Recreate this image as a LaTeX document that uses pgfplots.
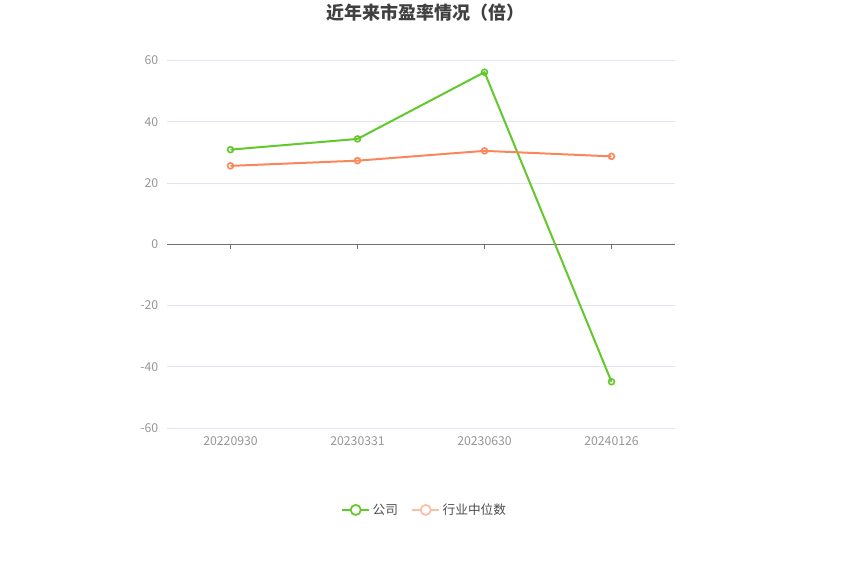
\documentclass[border=0pt]{standalone}
\usepackage{fontspec}
\setmainfont{Noto Sans CJK SC}
\usepackage{pgfplots}
\pgfplotsset{compat=1.18}
\definecolor{cgreen}{RGB}{98,200,44}
\definecolor{corange}{RGB}{250,135,90}
\definecolor{corangepale}{RGB}{252,190,165}
\definecolor{gridc}{RGB}{224,230,241}
\definecolor{axisc}{RGB}{110,112,121}
\definecolor{tickc}{RGB}{150,150,150}
\begin{document}
\begin{tikzpicture}
\path[use as bounding box] (0pt,0pt) rectangle (637.5pt,430.5pt);
\node[font=\bfseries\fontsize{13.5}{15}\selectfont, text=black!75] at (318.75pt,420.75pt) {近年来市盈率情况（倍）};
\begin{axis}[
  at={(125.25pt,109.5pt)}, anchor=south west,
  scale only axis, width=381pt, height=275.6pt,
  xmin=-0.5, xmax=3.5, ymin=-60, ymax=60,
  axis line style={draw=none},
  xtick={0,1,2,3},
  xticklabels={20220930,20230331,20230630,20240126},
  ytick={-60,-40,-20,0,20,40,60},
  ymajorgrids, grid style={gridc, line width=0.6pt},
  major tick length=0pt,
  tick label style={font=\fontsize{9.2}{11}\selectfont, text=tickc},
  /pgf/number format/assume math mode=true,
  xticklabel style={yshift=-3pt},
  yticklabel style={xshift=-3pt},
  clip=false,
  legend columns=2,
  legend style={at={(0.508,-0.223)}, anchor=center, draw=none, fill=none,
    font=\fontsize{9.5}{11}\selectfont, text=black!70,
    /tikz/every even column/.append style={column sep=8pt}},
  legend image code/.code={
    \draw[#1] (-0.6em,0) -- (1.4em,0);
    \draw[#1, fill=white, line width=1.3pt] (0.4em,0) circle (3.8pt);
  },
]
\draw[axisc, line width=0.8pt] (axis cs:-0.5,0) -- (axis cs:3.5,0);
\pgfplotsinvokeforeach{0,1,2,3}{\draw[axisc, line width=0.8pt] (axis cs:#1,0) -- ([yshift=-3.5pt]axis cs:#1,0);}
\addplot[cgreen, line width=1.5pt, mark=o, mark size=2.2pt, mark options={line width=1.2pt}, forget plot]
  coordinates {(0,30.9) (1,34.4) (2,56.2) (3,-44.9)};
\addplot[corange, line width=1.5pt, mark=o, mark size=2.2pt, mark options={line width=1.2pt}, forget plot]
  coordinates {(0,25.6) (1,27.3) (2,30.5) (3,28.7)};
\addlegendimage{cgreen, line width=1.5pt}
\addlegendentry{公司}
\addlegendimage{corangepale, line width=1.5pt}
\addlegendentry{行业中位数}
\end{axis}
\end{tikzpicture}
\end{document}
